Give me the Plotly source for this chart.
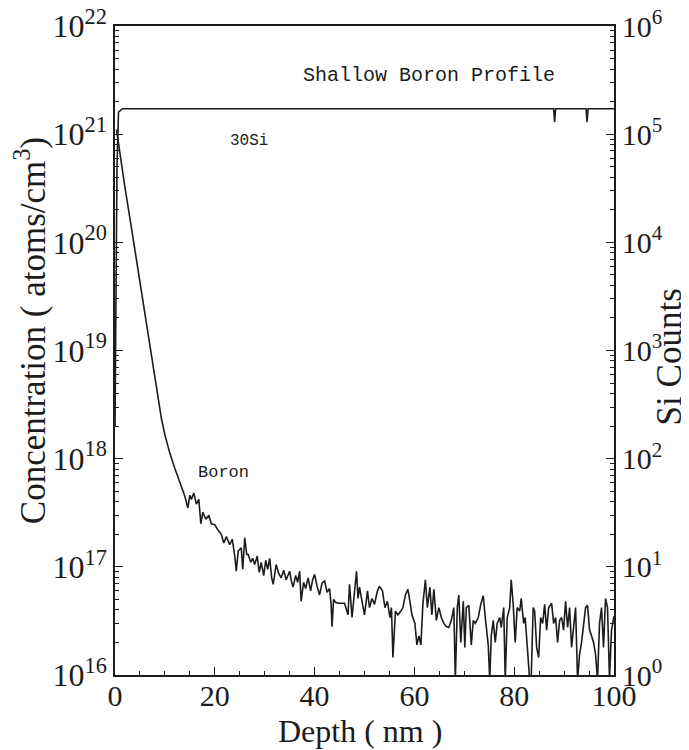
import plotly.graph_objects as go

# Boron concentration profile (atoms/cm^3) vs depth (nm)
boron_depth = [
    0.3, 1.0, 2.0, 3.0, 4.0, 5.0, 6.0, 6.6, 7.5, 8.9, 9.3, 10.0, 11.0, 12.0, 13.0, 14.0, 14.6,
    15.0, 15.3, 15.8, 16.3, 16.8, 17.2, 17.6, 18.2, 18.8, 19.3, 20.0, 20.6, 21.3, 21.8, 22.3,
    23.0, 23.5, 24.0, 24.3, 24.7, 25.3, 25.6, 26.0, 26.4, 26.7, 27.2, 27.6, 28.0, 28.5, 28.9,
    29.3, 29.8, 30.2, 30.6, 31.0, 31.4, 31.7, 32.3, 32.8, 33.3, 33.8, 34.3, 35.0, 35.4, 35.7,
    36.2, 36.6, 37.0, 37.3, 37.8, 38.2, 38.7, 39.2, 39.6, 40.0, 40.5, 41.0, 41.5, 42.0, 42.5,
    43.0, 43.3, 43.5, 43.8, 44.2, 44.7, 46.0, 46.7, 47.0, 47.5, 47.9, 48.4, 48.7, 49.0, 49.5,
    50.0, 50.6, 51.0, 51.5, 52.0, 52.6, 53.0, 53.6, 54.1, 54.6, 55.1, 55.4, 55.7, 56.2, 56.7,
    57.3, 57.7, 58.2, 58.7, 59.1, 59.5, 60.1, 60.5, 60.9, 61.3, 61.7, 62.2, 62.6, 63.1, 63.5,
    63.9, 64.4, 64.9, 65.4, 65.9, 66.4, 66.9, 67.4, 67.9, 68.2, 68.6, 68.9, 69.3, 69.8, 70.1,
    70.4, 70.9, 71.4, 71.8, 72.2, 72.8, 73.3, 73.8, 74.2, 74.8, 75.1, 75.4, 75.8, 76.2, 76.6,
    77.1, 77.4, 77.9, 78.2, 78.6, 79.1, 79.4, 79.8, 80.2, 80.6, 81.1, 81.4, 81.9, 82.2, 82.6,
    83.1, 83.4, 83.8, 84.1, 84.5, 84.9, 85.3, 85.7, 86.1, 86.5, 86.9, 87.5, 87.9, 88.3, 88.7,
    89.1, 89.5, 89.9, 90.3, 90.7, 91.1, 91.5, 91.9, 92.3, 92.7, 93.1, 93.5, 93.9, 94.3, 94.7,
    95.1, 95.5, 95.9, 96.3, 96.7, 97.1, 97.5, 97.9, 98.3, 98.7, 99.1, 99.5, 100.0,
]
boron_conc = [
    1.1e21, 6.3e20, 3.2e20, 1.66e20, 8.5e19, 4.4e19, 2.2e19, 1.4e19, 7.6e18, 3.0e18, 2.35e18, 1.66e18, 1.12e18, 8.1e17, 6.0e17, 4.5e17, 3.5e17,
    4.6e17, 4.2e17, 4.8e17, 3.8e17, 4.2e17, 2.5e17, 3.2e17, 2.75e17, 3.0e17, 2.5e17, 2.45e17, 2.2e17, 2.0e17, 1.66e17, 1.9e17,
    1.6e17, 1.8e17, 1.26e17, 9.1e16, 1.4e17, 1.5e17, 9.5e16, 1.86e17, 1.3e17, 1.3e17, 1.1e17, 1.2e17, 1.05e17, 1.26e17, 8.9e16,
    1.1e17, 8.3e16, 1.15e17, 9.5e16, 1.2e17, 7.9e16, 6.9e16, 1.05e17, 8.7e16, 7.9e16, 9.3e16, 7.6e16, 9.1e16, 7.2e16, 6.5e16,
    8.3e16, 7.2e16, 9.1e16, 4.8e16, 7.2e16, 6.3e16, 7.9e16, 6.0e16, 7.6e16, 8.5e16, 6.6e16, 5.5e16, 7.1e16, 7.4e16, 5.8e16,
    6.3e16, 4.5e16, 2.8e16, 5.0e16, 4.7e16, 4.6e16, 4.6e16, 3.6e16, 6.9e16, 3.4e16, 5.5e16, 9.1e16, 5.1e16, 6.5e16, 4.8e16,
    3.6e16, 6.0e16, 4.2e16, 5.1e16, 4.5e16, 6.0e16, 6.6e16, 6.0e16, 4.2e16, 4.8e16, 3.4e16, 4.2e16, 1.45e16, 3.9e16, 3.6e16,
    3.9e16, 4.2e16, 5.5e16, 6.2e16, 4.8e16, 3.6e16, 3.0e16, 1.9e16, 2.3e16, 1.9e16, 4.5e16, 7.6e16, 4.2e16, 6.5e16, 3.6e16,
    6.2e16, 3.2e16, 4.2e16, 3.4e16, 3.0e16, 2.8e16, 2.75e16, 3.2e16, 4.2e16, 9.0e15, 4.2e16, 5.5e16, 2.0e16, 4.8e16, 1.8e16,
    4.2e16, 4.4e16, 1.9e16, 3.2e16, 3.0e16, 3.4e16, 4.5e16, 5.4e16, 3.4e16, 1.9e16, 9.0e15, 2.3e16, 3.2e16, 2.0e16, 3.0e16,
    3.4e16, 2.75e16, 4.2e16, 9.0e15, 3.4e16, 4.2e16, 7.6e16, 4.5e16, 2.0e16, 4.2e16, 3.9e16, 5.1e16, 3.0e16, 3.4e16, 1.8e16,
    9.0e15, 9.0e15, 4.2e16, 3.9e16, 1.8e16, 1.45e16, 3.4e16, 3.0e16, 4.5e16, 2.6e16, 4.2e16, 4.6e16, 3.0e16, 3.4e16, 2.0e16,
    3.2e16, 3.4e16, 2.6e16, 4.8e16, 2.75e16, 4.2e16, 1.8e16, 2.75e16, 4.2e16, 9.0e15, 1.55e16, 2.0e16, 2.75e16, 4.2e16, 4.4e16,
    2.6e16, 2.3e16, 2.0e16, 1.55e16, 9.0e15, 3.0e16, 4.2e16, 1.8e16, 5.1e16, 4.2e16, 9.0e15, 2.6e16, 3.5e16,
]

# 30Si counts vs depth (nm)
si_depth = [0.0, 0.4, 0.7, 1.5, 20.0, 40.0, 60.0, 80.0, 87.9, 88.1, 88.3, 94.4, 94.6, 94.8, 100.0]
si_counts = [2.0e2, 5.0e4, 1.6e5, 1.72e5, 1.72e5, 1.73e5, 1.72e5, 1.72e5, 1.72e5, 1.3e5, 1.72e5, 1.72e5, 1.3e5, 1.72e5, 1.72e5]

left_tickvals = [1e16, 1e17, 1e18, 1e19, 1e20, 1e21, 1e22]
left_ticktext = ["10<sup>16</sup>", "10<sup>17</sup>", "10<sup>18</sup>", "10<sup>19</sup>",
                 "10<sup>20</sup>", "10<sup>21</sup>", "10<sup>22</sup>"]
right_tickvals = [1, 10, 100, 1e3, 1e4, 1e5, 1e6]
right_ticktext = ["10<sup>0</sup>", "10<sup>1</sup>", "10<sup>2</sup>", "10<sup>3</sup>",
                  "10<sup>4</sup>", "10<sup>5</sup>", "10<sup>6</sup>"]
x_tickvals = [0, 20, 40, 60, 80, 100]

ink = "#1c1c1c"
serif = "Liberation Serif"
mono = "Liberation Mono"

left_minor = [float(k) * 10.0 ** e for e in range(16, 22) for k in range(2, 10)]
right_minor = [float(k) * 10.0 ** e for e in range(0, 6) for k in range(2, 10)]

fig = go.Figure()
fig.add_trace(go.Scatter(x=boron_depth, y=boron_conc, mode="lines",
                         line=dict(color=ink, width=1.6), yaxis="y", showlegend=False))
fig.add_trace(go.Scatter(x=si_depth, y=si_counts, mode="lines",
                         line=dict(color=ink, width=1.6), yaxis="y2", showlegend=False))

fig.update_layout(
    width=689, height=750,
    paper_bgcolor="white", plot_bgcolor="white",
    margin=dict(l=107, r=83, t=18, b=83),
    font=dict(family=serif, color=ink),
    xaxis=dict(
        range=[0, 100], showgrid=False, zeroline=False,
        showline=True, linecolor=ink, linewidth=1.5, mirror=True,
        tickmode="array", tickvals=x_tickvals,
        ticks="inside", ticklen=8, tickwidth=1.2, tickcolor=ink,
        minor=dict(ticks="inside", ticklen=4, tickwidth=1, tickcolor=ink, dtick=5, showgrid=False),
        tickfont=dict(family=serif, size=30, color=ink),
        ticklabelstandoff=-7,
        ticklabeloverflow="allow",
        automargin=False,
    ),
    yaxis=dict(
        type="log", range=[16, 22], showgrid=False, zeroline=False,
        showline=True, linecolor=ink, linewidth=1.5,
        tickmode="array", tickvals=left_tickvals, ticktext=left_ticktext,
        ticks="inside", ticklen=8, tickwidth=1.2, tickcolor=ink,
        minor=dict(ticks="inside", ticklen=4, tickwidth=1, tickcolor=ink,
                   tickmode="array", tickvals=left_minor, showgrid=False),
        tickfont=dict(family=serif, size=32, color=ink),
        ticklabeloverflow="allow",
        automargin=False,
    ),
    yaxis2=dict(
        type="log", range=[0, 6], overlaying="y", side="right", anchor="x",
        showgrid=False, zeroline=False,
        showline=True, linecolor=ink, linewidth=1.5,
        tickmode="array", tickvals=right_tickvals, ticktext=right_ticktext,
        ticks="inside", ticklen=8, tickwidth=1.2, tickcolor=ink,
        minor=dict(ticks="inside", ticklen=4, tickwidth=1, tickcolor=ink,
                   tickmode="array", tickvals=right_minor, showgrid=False),
        tickfont=dict(family=serif, size=30, color=ink),
        ticklabeloverflow="allow",
        automargin=False,
    ),
    annotations=[
        dict(x=0.49, y=-0.087, xref="paper", yref="paper", text="Depth ( nm )", showarrow=False,
             xanchor="center", yanchor="middle", font=dict(family=serif, size=32, color=ink)),
        dict(x=-0.17, y=0.53, xref="paper", yref="paper", text="Concentration ( atoms/cm<sup>3</sup>)",
             showarrow=False, textangle=-90, xanchor="center", yanchor="middle",
             font=dict(family=serif, size=35, color=ink)),
        dict(x=1.113, y=0.49, xref="paper", yref="paper", text="Si Counts",
             showarrow=False, textangle=-90, xanchor="center", yanchor="middle",
             font=dict(family=serif, size=35, color=ink)),
        dict(x=63, y=21.54, xref="x", yref="y", text="Shallow Boron Profile", showarrow=False,
             font=dict(family=mono, size=20, color=ink)),
        dict(x=26.8, y=20.94, xref="x", yref="y", text="30Si", showarrow=False,
             font=dict(family=mono, size=16, color=ink)),
        dict(x=21.8, y=17.87, xref="x", yref="y", text="Boron", showarrow=False,
             font=dict(family=mono, size=17, color=ink)),
    ],
)

fig.write_html("out.html")
